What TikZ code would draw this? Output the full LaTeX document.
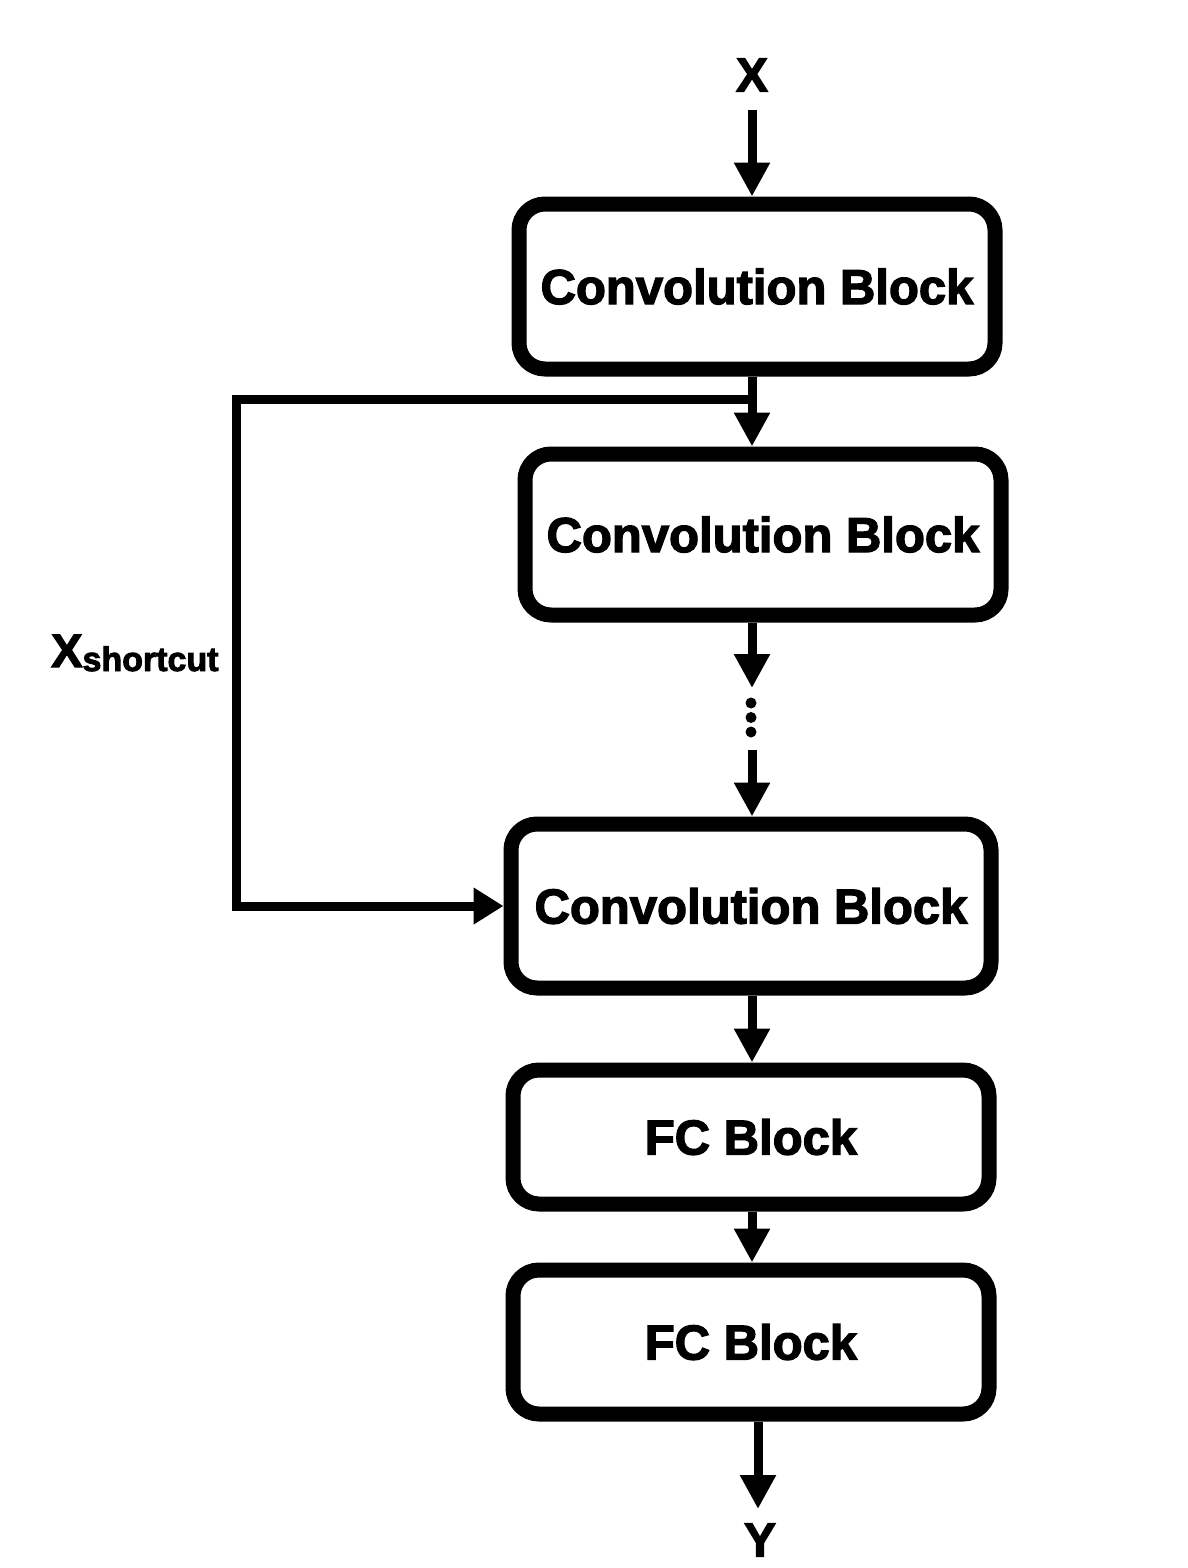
\documentclass[tikz,border=0pt]{standalone}
\usepackage{fontspec}
\usetikzlibrary{arrows.meta}
\newfontfamily\heavy{Liberation Sans}[BoldFeatures={FakeBold=2.6}]
\begin{document}
\begin{tikzpicture}[x=1pt,y=-1pt,
  blockbox/.style={draw=black,line width=15pt,rounded corners=26pt,fill=white,inner sep=0pt,
    font=\heavy\bfseries\fontsize{49}{49}\selectfont},
  arr/.style={line width=9pt,-{Triangle[width=34pt,length=34pt]}},
  lbl/.style={inner sep=0pt,font=\heavy\bfseries\fontsize{48}{48}\selectfont}]
\useasboundingbox (0,0) rectangle (1188,1568);
\fill[white] (0,0) rectangle (1188,1568);
\node[blockbox,minimum width=476pt,minimum height=165pt] (b1) at (757,286.5) {Convolution Block};
\node[blockbox,minimum width=476pt,minimum height=161pt] (b2) at (763,534.5) {Convolution Block};
\node[blockbox,minimum width=480pt,minimum height=164pt] (b3) at (751,906) {Convolution Block};
\node[blockbox,minimum width=476pt,minimum height=134pt] (b4) at (751,1137) {FC Block};
\node[blockbox,minimum width=476pt,minimum height=144pt] (b5) at (751,1342) {FC Block};
\node[lbl] (x) at (752,75) {X};
\node[lbl] (y) at (760,1540) {Y};
\node[inner sep=0pt,anchor=base west] (xs) at (51,667)
  {\heavy\bfseries\fontsize{47}{47}\selectfont X\raisebox{-4pt}{\fontsize{34}{34}\selectfont shortcut}};
\coordinate (xl) at (752,0);
\coordinate (xin) at (752,110);
\coordinate (dtop) at (752,688);
\coordinate (dbot) at (752,750);
\coordinate (yout) at (758,1509);
\coordinate (jn) at (756.5,399);
\coordinate (lc) at (236,399);
% connectors
\draw[arr] (xin) -- (b1.north -| xl);
\draw[arr] (b1.south -| xl) -- (b2.north -| xl);
\draw[arr] (b2.south -| xl) -- (dtop);
\draw[arr] (dbot) -- (b3.north -| xl);
\draw[arr] (b3.south -| xl) -- (b4.north -| xl);
\draw[arr] (b4.south -| xl) -- (b5.north -| xl);
\draw[arr] (b5.south -| yout) -- (yout);
\draw[line width=9pt,-{Triangle[width=35pt,length=30pt]},line join=miter]
  (jn) -- (lc) |- (b3.west);
\foreach \yy in {703,717.5,732} \fill (751,\yy) circle (5.5pt);
\end{tikzpicture}
\end{document}
